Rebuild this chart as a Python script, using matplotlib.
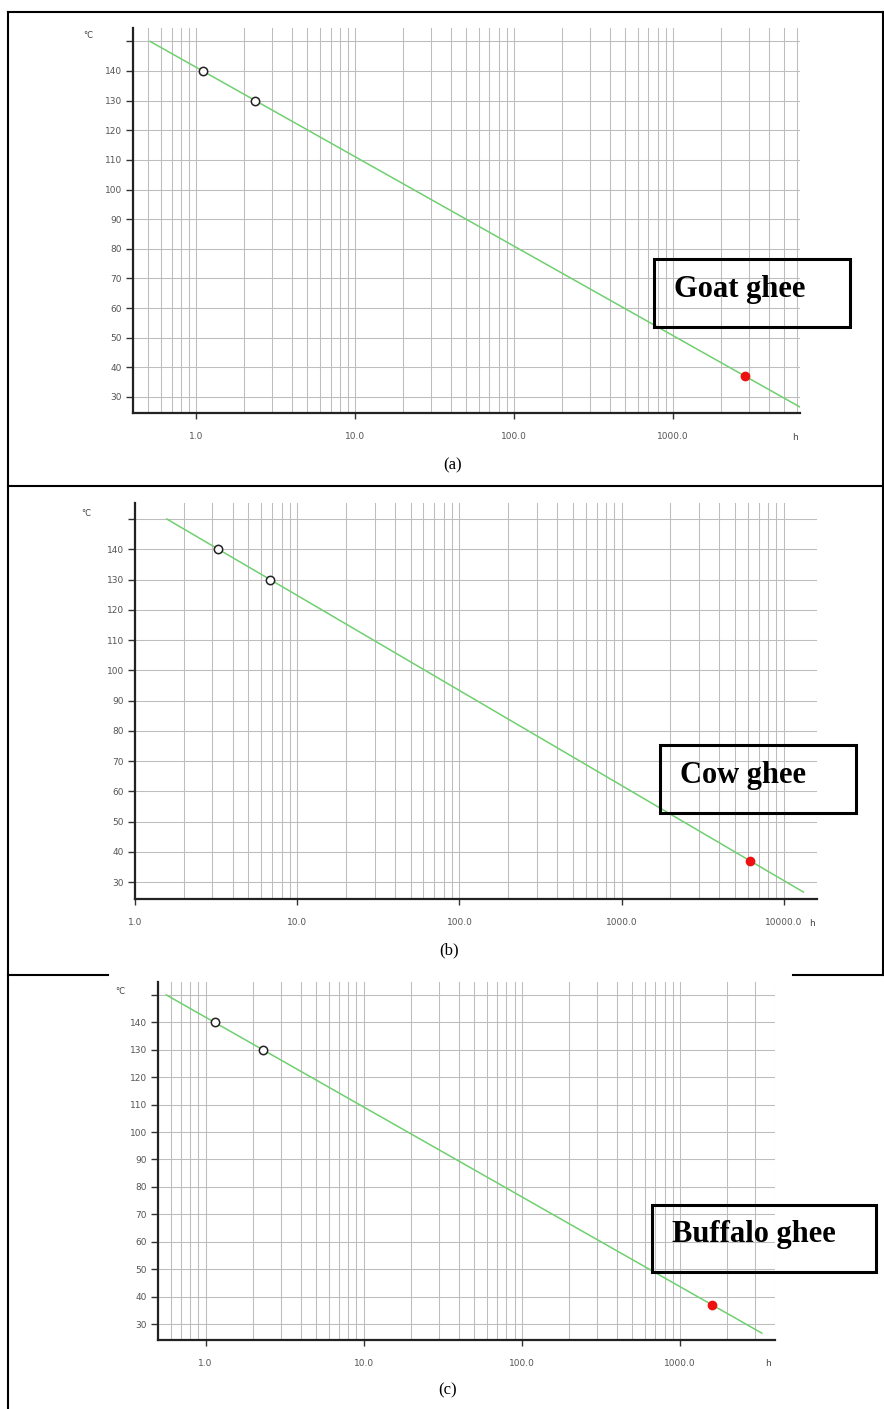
import numpy as np
import matplotlib
matplotlib.use("Agg")
import matplotlib.pyplot as plt
from matplotlib.patches import Rectangle
from matplotlib.lines import Line2D
from matplotlib.ticker import LogLocator, FixedLocator, NullFormatter

W, H = 884, 1409

# test temperatures (°C) and measured times (h)
test_temps = [140, 130]
goat_times = [1.1, 2.35]
cow_times = [3.27, 6.8]
buffalo_times = [1.14, 2.3]

# predicted shelf life at 37 °C (h)
pred_temp = 37
goat_pred = 2850
cow_pred = 6200
buffalo_pred = 1600

# temperature span of the fitted line
line_top = 150
line_bottom = [26.6, 26.7, 26.7]

names = ["Goat ghee", "Cow ghee", "Buffalo ghee"]
captions = ["(a)", "(b)", "(c)"]
x_ticks = [[1, 10, 100, 1000], [1, 10, 100, 1000, 10000], [1, 10, 100, 1000]]
y_ticks = [30, 40, 50, 60, 70, 80, 90, 100, 110, 120, 130, 140, 150]

fig = plt.figure(figsize=(W / 100, H / 100), dpi=100)


def fx(x):
    return x / W


def fy(y):
    return 1 - y / H


def draw_panel(i, box, xlim, ylim, times, pred, box_px, cap_xy, degc_xy, h_xy):
    left, top, right, bottom = box
    ax = fig.add_axes([fx(left), fy(bottom), fx(right - left), (bottom - top) / H])
    ax.set_xscale("log")
    ax.set_xlim(*xlim)
    ax.set_ylim(*ylim)

    ax.xaxis.set_major_locator(FixedLocator(x_ticks[i]))
    ax.set_xticklabels([f"{t:.1f}" for t in x_ticks[i]])
    ax.xaxis.set_minor_locator(LogLocator(base=10, subs=np.arange(2, 10), numticks=20))
    ax.xaxis.set_minor_formatter(NullFormatter())
    ax.set_yticks(y_ticks)
    ax.set_yticklabels([str(t) if t < 150 else "" for t in y_ticks])

    ax.grid(True, which="both", axis="x", color="#bdbdbd", lw=0.75)
    ax.grid(True, which="major", axis="y", color="#bdbdbd", lw=0.75)
    ax.set_axisbelow(True)
    ax.tick_params(axis="x", which="major", length=4, width=1, color="#333333",
                   labelsize=6.5, labelcolor="#555555", pad=10)
    ax.tick_params(axis="x", which="minor", length=0)
    ax.tick_params(axis="y", length=5, width=1, color="#333333",
                   labelsize=6.5, labelcolor="#555555", pad=3)
    for s in ["top", "right"]:
        ax.spines[s].set_visible(False)
    for s in ["left", "bottom"]:
        ax.spines[s].set_linewidth(1.6)
        ax.spines[s].set_color("#222222")

    # fitted line log10(t) vs T through all points
    temps = test_temps + [pred_temp]
    logs = np.log10(times + [pred])
    k, b = np.polyfit(temps, logs, 1)
    tt = np.array([line_top, line_bottom[i]])
    ax.plot(10 ** (k * tt + b), tt, color="#6fd06f", lw=1.1, zorder=3)

    ax.plot(times, test_temps, "o", ms=6, mfc="white", mec="#222222", mew=1.1, zorder=4)
    ax.plot([pred], [pred_temp], "o", ms=6, color="#ee1111", zorder=4)

    # label box
    bx0, by0, bx1, by1 = box_px
    fig.patches.append(Rectangle((fx(bx0), fy(by1)), fx(bx1 - bx0), (by1 - by0) / H,
                                 transform=fig.transFigure, fill=False, ec="black", lw=2.2))
    fig.text(fx(bx0 + 20), fy((by0 + by1) / 2 - 4), names[i], ha="left", va="center",
             family="Liberation Serif", fontweight="bold", fontsize=22)

    fig.text(fx(cap_xy[0]), fy(cap_xy[1]), captions[i], ha="center", va="center",
             family="Liberation Serif", fontsize=12)
    fig.text(fx(degc_xy[0]), fy(degc_xy[1]), "°C", ha="center", va="center",
             fontsize=6, color="#444444")
    fig.text(fx(h_xy[0]), fy(h_xy[1]), "h", ha="center", va="center",
             fontsize=6.5, color="#444444")


draw_panel(0, (133, 28, 800, 413), (0.4, 6300), (24.6, 154.5), goat_times, goat_pred,
           (654, 259, 850, 327), (453, 465), (88, 35), (795, 438))
draw_panel(1, (135, 503, 817, 899), (1, 16000), (24.4, 155.3), cow_times, cow_pred,
           (660, 745, 856, 813), (449, 950), (86, 513), (812, 923))
draw_panel(2, (158, 982, 775, 1340), (0.5, 4000), (24.2, 154.7), buffalo_times, buffalo_pred,
           (652, 1205, 876, 1272), (448, 1390), (120, 992), (768, 1363))

# outer frame lines
frame = [
    ((8, 884), (12, 12)),
    ((8, 8), (12, 1409)),
    ((883, 883), (12, 975)),
    ((8, 884), (486, 486)),
    ((8, 108), (975, 975)),
    ((793, 884), (975, 975)),
]
for xs, ys in frame:
    fig.lines.append(Line2D([fx(x) for x in xs], [fy(y) for y in ys],
                            transform=fig.transFigure, color="black", lw=1.5))

fig.savefig("out.png", dpi=100)
